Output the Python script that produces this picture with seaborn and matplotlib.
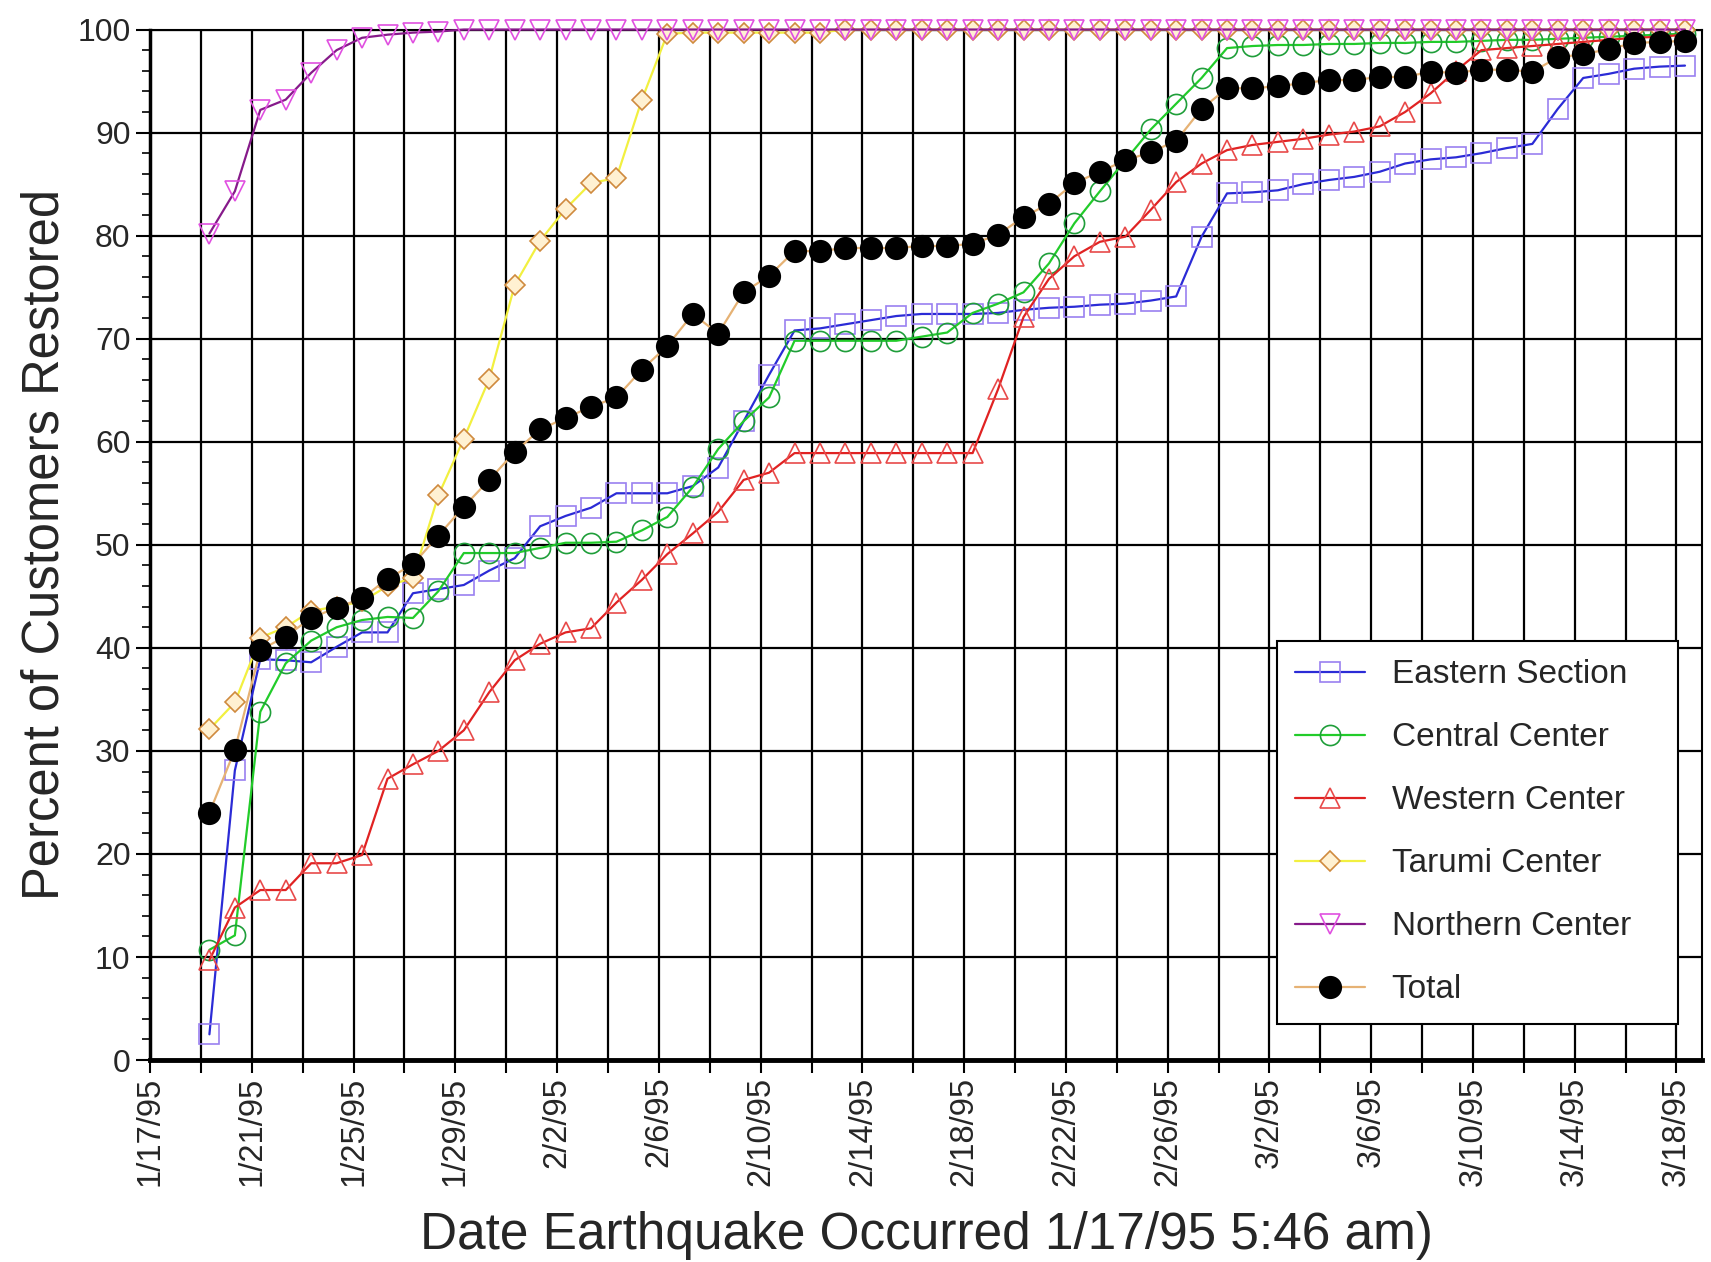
import matplotlib
matplotlib.use("Agg")
import matplotlib.pyplot as plt
import matplotlib.dates as mdates
from matplotlib.ticker import FixedLocator, MultipleLocator
import pandas as pd
import seaborn as sns

# Daily readings, taken each morning after the 1/17/95 5:46 am earthquake
dates = pd.date_range("1995-01-19 08:00", "1995-03-18 08:00", freq="D")

eastern = [2.5, 28.1, 38.9, 38.8, 38.6, 40.1, 41.5, 41.5, 45.3, 45.7,
           46.1, 47.5, 48.7, 51.8, 52.8, 53.6, 55.0, 55.0, 55.0, 55.7,
           57.5, 62.0, 66.5, 70.8, 71.0, 71.4, 71.8, 72.2, 72.4, 72.4,
           72.4, 72.5, 72.8, 73.0, 73.1, 73.3, 73.4, 73.7, 74.1, 79.9,
           84.1, 84.2, 84.4, 85.0, 85.4, 85.7, 86.2, 87.0, 87.4, 87.6,
           88.0, 88.5, 88.9, 92.3, 95.3, 95.7, 96.2, 96.4, 96.5]

central = [10.7, 12.1, 33.8, 38.5, 40.7, 42.0, 42.7, 43.0, 42.9, 45.5,
           49.2, 49.2, 49.2, 49.7, 50.2, 50.2, 50.3, 51.4, 52.7, 55.6,
           59.3, 62.0, 64.3, 69.8, 69.8, 69.8, 69.8, 69.8, 70.2, 70.6,
           72.5, 73.4, 74.5, 77.3, 81.2, 84.3, 87.3, 90.3, 92.8, 95.3,
           98.2, 98.4, 98.5, 98.5, 98.6, 98.6, 98.7, 98.7, 98.8, 98.8,
           98.9, 99.0, 99.0, 99.1, 99.2, 99.3, 99.4, 99.5, 99.6]

western = [9.7, 14.8, 16.5, 16.5, 19.1, 19.1, 19.9, 27.3, 28.7, 30.0,
           32.0, 35.7, 38.8, 40.4, 41.5, 41.9, 44.4, 46.6, 49.1, 51.1,
           53.2, 56.3, 57.0, 58.9, 58.9, 58.9, 58.9, 58.9, 58.9, 58.9,
           58.9, 65.1, 72.1, 75.8, 78.0, 79.4, 79.9, 82.5, 85.2, 87.0,
           88.3, 88.8, 89.1, 89.4, 89.8, 90.1, 90.6, 92.0, 93.8, 96.0,
           98.0, 98.2, 98.4, 98.6, 98.8, 99.0, 99.2, 99.3, 99.5]

tarumi = [32.1, 34.7, 41.0, 42.0, 43.6, 44.0, 44.5, 46.0, 46.8, 54.8,
          60.3, 66.1, 75.2, 79.5, 82.6, 85.1, 85.6, 93.2, 99.6, 99.7,
          99.7, 99.7, 99.7, 99.7, 99.7, 100.0, 100.0, 100.0, 100.0, 100.0,
          100.0, 100.0, 100.0, 100.0, 100.0, 100.0, 100.0, 100.0, 100.0, 100.0,
          100.0, 100.0, 100.0, 100.0, 100.0, 100.0, 100.0, 100.0, 100.0, 100.0,
          100.0, 100.0, 100.0, 100.0, 100.0, 100.0, 100.0, 100.0, 100.0]

northern = [80.2, 84.3, 92.2, 93.2, 95.8, 98.0, 99.2, 99.5, 99.7, 99.8,
            100.0, 100.0, 100.0, 100.0, 100.0, 100.0, 100.0, 100.0, 100.0, 100.0,
            100.0, 100.0, 100.0, 100.0, 100.0, 100.0, 100.0, 100.0, 100.0, 100.0,
            100.0, 100.0, 100.0, 100.0, 100.0, 100.0, 100.0, 100.0, 100.0, 100.0,
            100.0, 100.0, 100.0, 100.0, 100.0, 100.0, 100.0, 100.0, 100.0, 100.0,
            100.0, 100.0, 100.0, 100.0, 100.0, 100.0, 100.0, 100.0, 100.0]

total = [24.0, 30.1, 39.8, 41.1, 42.9, 43.9, 44.8, 46.7, 48.1, 50.9,
         53.7, 56.3, 59.0, 61.2, 62.3, 63.4, 64.3, 67.0, 69.3, 72.4,
         70.5, 74.5, 76.1, 78.5, 78.5, 78.8, 78.8, 78.8, 79.0, 79.0,
         79.2, 80.1, 81.8, 83.1, 85.1, 86.2, 87.3, 88.1, 89.2, 92.3,
         94.3, 94.3, 94.5, 94.8, 95.1, 95.1, 95.4, 95.4, 95.9, 95.8,
         96.1, 96.1, 95.9, 97.3, 97.6, 98.1, 98.7, 98.8, 98.9]

series_names = ["Eastern Section", "Central Center", "Western Center",
                "Tarumi Center", "Northern Center", "Total"]
series_values = [eastern, central, western, tarumi, northern, total]

tick_dates = pd.date_range("1995-01-17", "1995-03-18", freq="4D")
tick_labels = ["1/17/95", "1/21/95", "1/25/95", "1/29/95", "2/2/95", "2/6/95",
               "2/10/95", "2/14/95", "2/18/95", "2/22/95", "2/26/95", "3/2/95",
               "3/6/95", "3/10/95", "3/14/95", "3/18/95"]
grid_dates = pd.date_range("1995-01-17", "1995-03-19", freq="2D")

# line colour, marker, marker edge, marker face, marker size
styles = {
    "Eastern Section": dict(color="#2b2bd6", marker="s", mec="#9a80f0", mfc="none", ms=15),
    "Central Center": dict(color="#22cc2a", marker="o", mec="#1f9e3a", mfc="none", ms=14.5),
    "Western Center": dict(color="#e02222", marker="^", mec="#e84a4a", mfc="none", ms=14),
    "Tarumi Center": dict(color="#f2f040", marker="D", mec="#cf8a3e", mfc="#fff1d2", ms=10),
    "Northern Center": dict(color="#861a8a", marker="v", mec="#e050e0", mfc="none", ms=14),
    "Total": dict(color="#e6b274", marker="o", mec="black", mfc="black", ms=15.5),
}

sns.set_theme(style="white")
plt.rcParams["font.family"] = ["Liberation Sans", "DejaVu Sans"]

fig, ax = plt.subplots(figsize=(17.11, 12.62), dpi=100)
fig.subplots_adjust(left=0.0877, right=0.9947, bottom=0.160, top=0.9766)

for name, values in zip(series_names, series_values):
    st = styles[name]
    sns.lineplot(x=dates, y=values, ax=ax, label=name, color=st["color"],
                 marker=st["marker"], markeredgecolor=st["mec"],
                 markerfacecolor=st["mfc"], markersize=st["ms"],
                 markeredgewidth=1.2, linewidth=1.6, errorbar=None,
                 clip_on=False, zorder=3)

ax.set_xlim(pd.Timestamp("1995-01-17"), pd.Timestamp("1995-03-19"))
ax.set_ylim(0, 100)

ax.xaxis.set_major_locator(FixedLocator(mdates.date2num(tick_dates)))
ax.xaxis.set_minor_locator(FixedLocator(mdates.date2num(grid_dates)))
ax.set_xticklabels(tick_labels, rotation=90)
ax.yaxis.set_major_locator(MultipleLocator(10))
ax.yaxis.set_minor_locator(MultipleLocator(2))

ax.grid(True, which="both", axis="x", color="black", linewidth=1.6)
ax.grid(True, which="major", axis="y", color="black", linewidth=1.6)
ax.set_axisbelow(True)

ax.tick_params(axis="x", which="both", direction="out", length=9, width=1.5,
               color="black", labelsize=23.5, pad=3, bottom=True)
ax.tick_params(axis="y", which="major", direction="out", length=10, width=1.5,
               color="black", labelsize=23, pad=4, left=True)
ax.tick_params(axis="y", which="minor", direction="out", length=6, width=1.2,
               color="black", left=True)

for side, lw in {"left": 2.5, "bottom": 3.5, "top": 1.5, "right": 1.5}.items():
    ax.spines[side].set_color("black")
    ax.spines[side].set_linewidth(lw)
    ax.spines[side].set_visible(True)

ax.set_xlabel("Date Earthquake Occurred 1/17/95 5:46 am)", fontsize=37, labelpad=18)
ax.set_ylabel("Percent of Customers Restored", fontsize=36.5, labelpad=6)

leg = ax.legend(loc="lower left", bbox_to_anchor=(0.726, 0.0354, 0.2587, 0.5),
                mode="expand", fontsize=24, frameon=True, fancybox=False,
                framealpha=1, edgecolor="black", labelspacing=0.96,
                handlelength=2.1, handletextpad=0.8, borderpad=0.55,
                borderaxespad=0)
leg.get_frame().set_linewidth(1.5)
leg.set_zorder(5)

fig.savefig("out.png", dpi=100)
